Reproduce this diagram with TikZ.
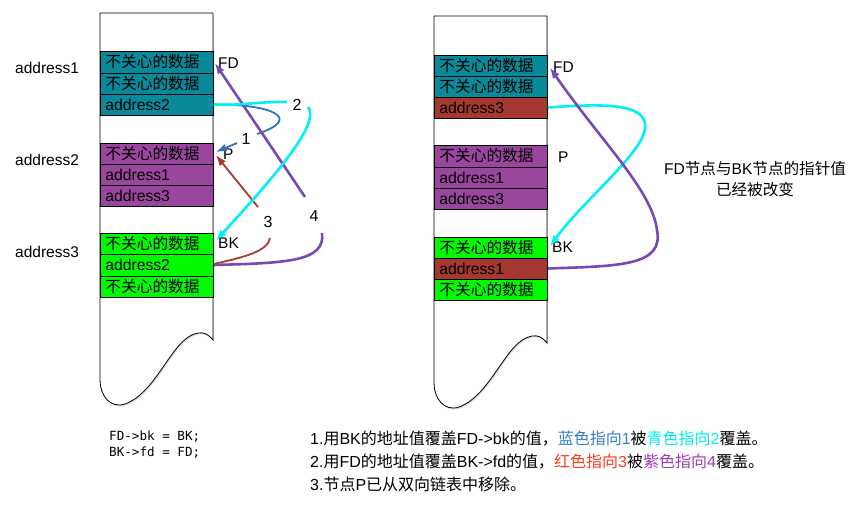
\documentclass[tikz,border=0pt]{standalone}
\usepackage{fontspec}
\setmainfont{Liberation Sans}
\newfontfamily\cjk{Noto Sans CJK SC}
\newfontfamily\codefont{DejaVu Sans Mono}
\usetikzlibrary{arrows.meta}
\newcommand{\zh}[1]{{\cjk #1}}
\definecolor{tealc}{RGB}{8,138,154}
\definecolor{purc}{RGB}{155,70,158}
\definecolor{grnc}{RGB}{0,250,0}
\definecolor{redc}{RGB}{165,56,48}
\definecolor{cyanc}{RGB}{0,240,245}
\definecolor{viol}{RGB}{120,72,180}
\definecolor{bluec}{RGB}{45,115,192}
\definecolor{redar}{RGB}{168,58,50}
\definecolor{txtblue}{RGB}{55,125,200}
\definecolor{txtcyan}{RGB}{0,235,240}
\definecolor{txtred}{RGB}{255,58,30}
\definecolor{txtpur}{RGB}{160,60,180}
\begin{document}
\begin{tikzpicture}[x=1pt,y=-1pt,
  cell/.style={draw=black, line width=0.8pt, text width=103pt, inner xsep=5pt, inner ysep=0pt,
    align=left, minimum height=21pt, anchor=west, font=\fontsize{15.7}{18}\selectfont},
  lbl/.style={inner sep=0pt, anchor=west, font=\fontsize{15.5}{18}\selectfont},
  num/.style={inner sep=0pt, font=\fontsize{16}{18}\selectfont},
  tip/.style={-{Latex[length=11pt,width=8pt]}},
  cyanl/.style={draw=cyanc, line width=2.6pt},
  purl/.style={draw=viol, line width=2.6pt},
  bluel/.style={draw=bluec, line width=1.8pt},
  redl/.style={draw=redar, line width=1.8pt},
  expl/.style={inner sep=0pt, anchor=west, font=\fontsize{16}{18}\selectfont},
  codel/.style={inner sep=0pt, anchor=west, font=\codefont\fontsize{12.6}{16}\selectfont},
  colout/.pic={
    \fill[black!14] (101,14.5) -- (214,14.5) -- (214,341.5) .. controls (209,335.5) and (205,333.5) .. (199,334.5)
      .. controls (173,338.5) and (159,393.5) .. (126,405.5) .. controls (111,410.5) and (101,396.5) .. (101,381.5) -- cycle;
    \filldraw[fill=white, draw=black, line width=0.8pt] (100,13) -- (213,13) -- (213,340) .. controls (208,334) and (204,332) .. (198,333)
      .. controls (172,337) and (158,392) .. (125,404) .. controls (110,409) and (100,395) .. (100,380) -- cycle;
  }
]
\useasboundingbox (0,0) rectangle (862,507);

% columns
\pic at (0,0) {colout};
\pic at (334,3) {colout};

% left column cells
\node[cell, fill=tealc, minimum height=22pt] (Lt1) at (100,62) {\cjk 不关心的数据};
\node[cell, fill=tealc] (Lt2) at (100,83.5) {\cjk 不关心的数据};
\node[cell, fill=tealc] (La2) at (100,104.5) {address2};
\node[cell, fill=purc] (Lp1) at (100,153.5) {\cjk 不关心的数据};
\node[cell, fill=purc] (Lp2) at (100,174.5) {address1};
\node[cell, fill=purc] (Lp3) at (100,195.5) {address3};
\node[cell, fill=grnc] (Lg1) at (100,243.5) {\cjk 不关心的数据};
\node[cell, fill=grnc, minimum height=22pt] (Lg2) at (100,265) {address2};
\node[cell, fill=grnc] (Lg3) at (100,286.5) {\cjk 不关心的数据};

% right column cells
\node[cell, fill=tealc] (Rt1) at (434,65.5) {\cjk 不关心的数据};
\node[cell, fill=tealc] (Rt2) at (434,86.5) {\cjk 不关心的数据};
\node[cell, fill=redc] (Ra3) at (434,107.5) {address3};
\node[cell, fill=purc, minimum height=22pt] (Rp1) at (434,156) {\cjk 不关心的数据};
\node[cell, fill=purc] (Rp2) at (434,177.5) {address1};
\node[cell, fill=purc] (Rp3) at (434,198.5) {address3};
\node[cell, fill=grnc] (Rg1) at (434,247.5) {\cjk 不关心的数据};
\node[cell, fill=redc] (Rr1) at (434,268.5) {address1};
\node[cell, fill=grnc] (Rg3) at (434,289.5) {\cjk 不关心的数据};

% side labels
\node[lbl] (ad1) at (15,68) {address1};
\node[lbl] (ad2) at (15,160) {address2};
\node[lbl] (ad3) at (15,252) {address3};
\node[lbl] (LFD) at (218,63) {FD};
\node[lbl] (LP) at (223,154) {P};
\node[lbl] (LBK) at (218,243) {BK};
\node[lbl] (RFD) at (553,67) {FD};
\node[lbl] (RP) at (558,157) {P};
\node[lbl] (RBK) at (552,247) {BK};

% numbers
\node[num] (n1) at (246,139) {1};
\node[num] (n2) at (297,105) {2};
\node[num] (n3) at (268,222) {3};
\node[num] (n4) at (314,216) {4};

% free ends
\coordinate (c2a) at (287,102);
\coordinate (c2b) at (308,107);
\coordinate (c1a) at (257,134);
\coordinate (c1b) at (237,143);
\coordinate (c3a) at (258,207);
\coordinate (c3b) at (270,238);
\coordinate (c4a) at (305,197);
\coordinate (c4b) at (322,233);

% left connectors
\draw[bluel] (La2.east) .. controls (270,104) and (305,118) .. (c1a);
\draw[bluel, tip] (c1b) -- ([xshift=2pt,yshift=1.5pt]Lp1.east);
\draw[redl, tip] (c3a) -- ([xshift=2pt,yshift=-1.5pt]Lp1.east);
\draw[redl] ([yshift=1pt]Lg2.east) .. controls (240,258) and (268,252) .. (c3b);
\draw[purl, tip] (c4a) -- ([xshift=1pt,yshift=-1pt]Lt1.east);
\draw[purl] (Lg2.east) .. controls (285,263) and (326,262) .. (c4b);
\draw[cyanl] (La2.east) .. controls (240,106) and (265,101) .. (c2a);
\draw[cyanl, tip] (c2b) .. controls (318,120) and (295,155) .. ([xshift=2pt,yshift=3pt]Lg1.east);

% right connectors
\draw[cyanl, tip] (Ra3.east) .. controls (600,104) and (662,100) .. (641,140)
  .. controls (625,168) and (580,205) .. ([xshift=2pt,yshift=1pt]Rg1.east);
\draw[purl, tip] (Rr1.east) .. controls (620,266) and (664,266) .. (657,230)
  .. controls (652,190) and (600,140) .. ([xshift=2pt,yshift=-2pt]Rt1.east);

% note
\node[align=center, inner sep=0pt, font=\fontsize{15.6}{21}\selectfont] (note) at (755,179)
  {FD\zh{节点与}BK\zh{节点的指针值}\\\zh{已经被改变}};

% code
\node[codel] (code1) at (109,437) {FD->bk = BK;};
\node[codel] (code2) at (109,453) {BK->fd = FD;};

% explanation
\node[expl] (e1) at (310,439)
  {1.\zh{用}BK\zh{的地址值覆盖}FD->bk\zh{的值，}\textcolor{txtblue}{\zh{蓝色指向}1}\zh{被}\textcolor{txtcyan}{\zh{青色指向}2}\zh{覆盖。}};
\node[expl] (e2) at (310,462)
  {2.\zh{用}FD\zh{的地址值覆盖}BK->fd\zh{的值，}\textcolor{txtred}{\zh{红色指向}3}\zh{被}\textcolor{txtpur}{\zh{紫色指向}4}\zh{覆盖。}};
\node[expl] (e3) at (310,484)
  {3.\zh{节点}P\zh{已从双向链表中移除。}};
\end{tikzpicture}
\end{document}
